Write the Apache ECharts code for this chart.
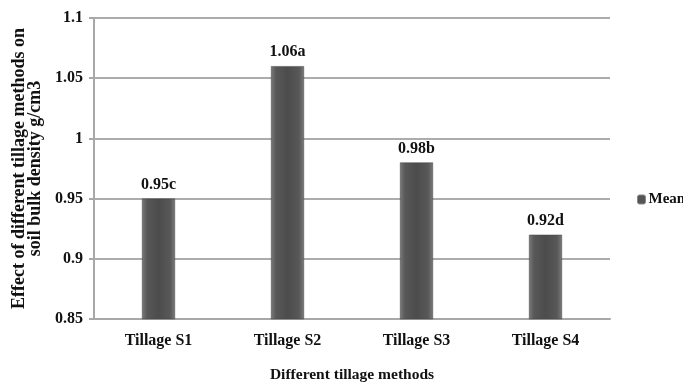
<!DOCTYPE html>
<html>
<head>
<meta charset="utf-8">
<script src="https://cdn.jsdelivr.net/npm/echarts@6/dist/echarts.min.js"></script>
<style>
  html, body { margin: 0; padding: 0; background: #fff; }
  #chart { width: 683px; height: 385px; }
</style>
</head>
<body>
<div id="chart"></div>
<script>
// Soil bulk density (g/cm3) under four tillage methods
const categories = ['Tillage S1', 'Tillage S2', 'Tillage S3', 'Tillage S4'];
const meanValues = [0.95, 1.06, 0.98, 0.92];
const significance = ['c', 'a', 'b', 'd'];
const yTicks = { min: 0.85, max: 1.1, step: 0.05 };

const serif = '"Liberation Serif", "Times New Roman", serif';

const barFill = new echarts.graphic.LinearGradient(0, 0, 1, 0, [
  { offset: 0, color: '#7a7a7a' },
  { offset: 0.15, color: '#585858' },
  { offset: 0.5, color: '#4c4c4c' },
  { offset: 0.85, color: '#585858' },
  { offset: 1, color: '#7a7a7a' }
]);

const chart = echarts.init(document.getElementById('chart'));
chart.setOption({
  animation: false,
  backgroundColor: '#ffffff',
  textStyle: { fontFamily: serif },
  grid: { left: 94, right: 73, top: 18, bottom: 66, containLabel: false, outerBoundsMode: 'none' },
  legend: {
    data: ['Mean'],
    left: 632,
    top: 187,
    itemWidth: 8,
    itemHeight: 9,
    itemGap: 4,
    itemStyle: { color: '#555', borderColor: '#888', borderWidth: 1 },
    textStyle: { fontFamily: serif, fontWeight: 'bold', fontSize: 15, color: '#111', padding: [0, 0, 0, -2] }
  },
  xAxis: {
    type: 'category',
    data: categories,
    name: 'Different tillage methods',
    nameLocation: 'middle',
    nameGap: 48,
    nameTextStyle: { fontFamily: serif, fontWeight: 'bold', fontSize: 15.5, color: '#111' },
    axisLine: { lineStyle: { color: '#a8a8a8', width: 2 } },
    axisTick: { show: false },
    axisLabel: { fontFamily: serif, fontWeight: 'bold', fontSize: 16, color: '#111', margin: 14 }
  },
  yAxis: {
    type: 'value',
    min: yTicks.min,
    max: yTicks.max,
    interval: yTicks.step,
    name: 'Effect of different tillage methods on\nsoil bulk density g/cm3',
    nameLocation: 'middle',
    nameGap: 51,
    nameRotate: 90,
    nameTextStyle: { fontFamily: serif, fontWeight: 'bold', fontSize: 18, color: '#111', lineHeight: 16 },
    axisLine: { show: true, lineStyle: { color: '#a8a8a8', width: 2 } },
    axisTick: { show: true, length: 5, lineStyle: { color: '#a8a8a8', width: 2 } },
    axisLabel: {
      fontFamily: serif, fontWeight: 'bold', fontSize: 16, color: '#111', margin: 11,
      formatter: v => String(Math.round(v * 100) / 100)
    },
    splitLine: { lineStyle: { color: '#acacac', width: 2 } }
  },
  series: [{
    name: 'Mean',
    type: 'bar',
    data: meanValues,
    barWidth: 33,
    itemStyle: { color: barFill, borderColor: '#444', borderWidth: 0.5 },
    label: {
      show: true,
      position: 'top',
      distance: 6,
      fontFamily: serif,
      fontWeight: 'bold',
      fontSize: 16,
      color: '#111',
      formatter: p => p.value.toFixed(2) + significance[p.dataIndex]
    }
  }]
});
</script>
</body>
</html>
